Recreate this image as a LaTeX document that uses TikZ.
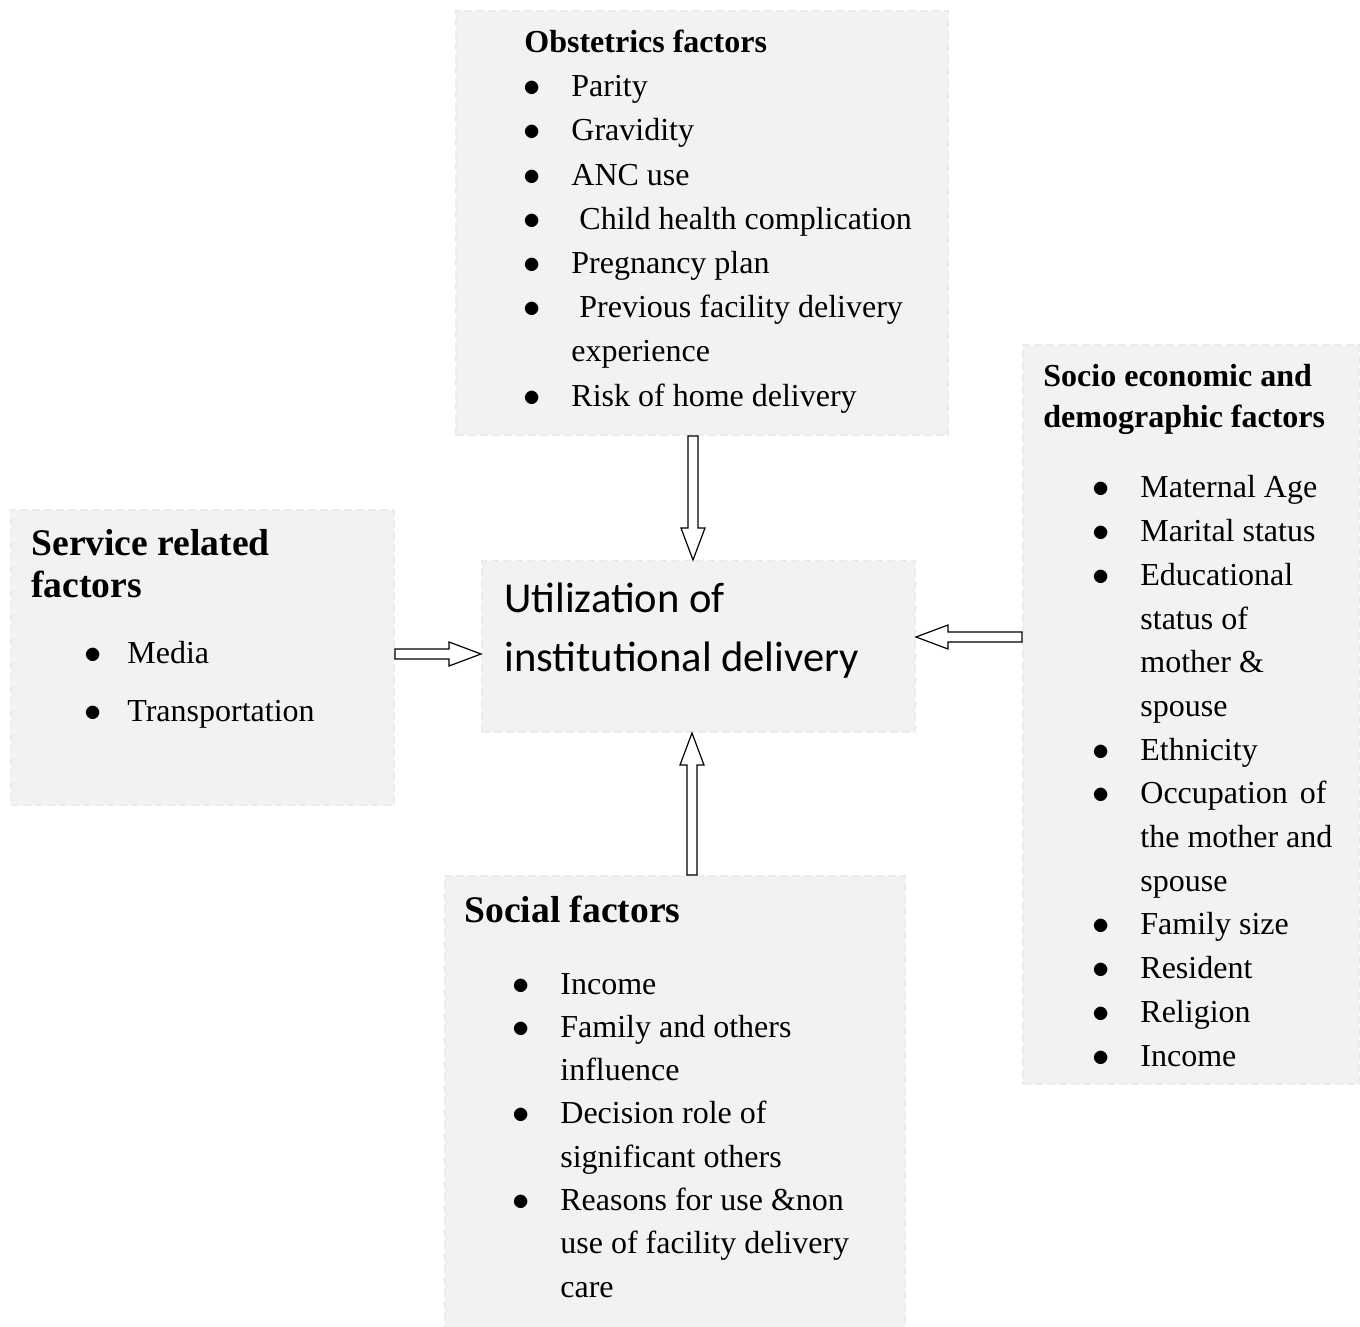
\documentclass[tikz,border=0pt]{standalone}
\usepackage{fontspec}
\setmainfont{Liberation Serif}
\newfontfamily\calibrifont{Carlito}
\usetikzlibrary{calc}

\definecolor{boxfill}{HTML}{F2F2F2}
\definecolor{boxline}{HTML}{EEECE1}

% bullet list helpers
\newlength\bulind \setlength\bulind{24pt}
\newcommand\bitem[1]{\makebox[\bulind][l]{$\bullet$}#1}
\newcommand\bcont[1]{\hspace*{\bulind}#1}

% outlined block arrow between two named points
\newcommand\blockarrow[2]{%
  \path let \p1=($(#2)-(#1)$), \n1={veclen(\x1,\y1)}, \n2={atan2(\y1,\x1)} in
    \pgfextra{\xdef\arrlen{\n1}\xdef\arrang{\n2}};
  \draw[blockarr, shift={(#1)}, rotate=\arrang]
    (0pt,2.5pt) -- (\arrlen-16pt,2.5pt) -- (\arrlen-16pt,6pt) -- (\arrlen+0pt,0pt)
    -- (\arrlen-16pt,-6pt) -- (\arrlen-16pt,-2.5pt) -- (0pt,-2.5pt) -- cycle;}

\begin{document}
\begin{tikzpicture}[
    x=0.5pt, y=-0.5pt,
    factorbox/.style={draw=boxline, fill=boxfill, dashed, dash pattern=on 4pt off 2pt,
      line width=1pt, anchor=north west, inner sep=0pt},
    titletext/.style={font=\bfseries\fontsize{16pt}{20.5pt}\selectfont, align=left, inner sep=0pt, anchor=base west},
    bigtitle/.style={font=\bfseries\fontsize{18.8pt}{21pt}\selectfont, align=left, inner sep=0pt, anchor=base west},
    listtext/.style={font=\fontsize{16pt}{22.1pt}\selectfont, align=left, inner sep=0pt, anchor=base west},
    blockarr/.style={draw=black, fill=white, line width=0.6pt, line join=miter}
]
\useasboundingbox (0,0) rectangle (1360,1327);

% ---- boxes ----
\node[factorbox, minimum width=246pt, minimum height=212pt] (obst) at (455,10) {};
\node[factorbox, minimum width=216.5pt, minimum height=85.5pt] (util) at (481,560) {};
\node[factorbox, minimum width=191.5pt, minimum height=147.5pt] (service) at (10,509) {};
\node[factorbox, minimum width=168pt, minimum height=369.5pt] (socio) at (1022,344) {};
\node[factorbox, minimum width=230pt, minimum height=227.5pt] (social) at (444,875) {};

% ---- obstetrics (multi-line nodes sit on their last baseline) ----
\node[titletext] (obsttitle) at (524,53) {Obstetrics factors};
\node[listtext] (obstlist) at (523,406) {%
  \bitem{Parity}\\
  \bitem{Gravidity}\\
  \bitem{ANC use}\\
  \bitem{\hspace*{4pt}Child health complication}\\
  \bitem{Pregnancy plan}\\
  \bitem{\hspace*{4pt}Previous facility delivery}\\
  \bcont{experience}\\
  \bitem{Risk of home delivery}};

% ---- centre ----
\node[font=\calibrifont\fontsize{21.3pt}{29.5pt}\selectfont, align=left, inner sep=0pt, anchor=base west]
  (utiltext) at (504,671) {Utilization of\\institutional delivery};

% ---- service related ----
\node[bigtitle] (srvtitle) at (31,597) {Service related\\factors};
\node[listtext, font=\fontsize{16pt}{29pt}\selectfont\setlength\bulind{21.5pt}] (srvlist) at (84,721) {%
  \bitem{Media}\\
  \bitem{Transportation}};

% ---- socio economic ----
\node[titletext] (sociotitle) at (1043,427) {Socio economic and\\demographic factors};
\node[listtext, font=\fontsize{16pt}{21.85pt}\selectfont] (sociolist) at (1092,1066) {%
  \bitem{Maternal Age}\\
  \bitem{Marital status}\\
  \bitem{Educational}\\
  \bcont{status of}\\
  \bcont{mother \&}\\
  \bcont{spouse}\\
  \bitem{Ethnicity}\\
  \bitem{Occupation\hspace{6pt}of}\\
  \bcont{the mother and}\\
  \bcont{spouse}\\
  \bitem{Family size}\\
  \bitem{Resident}\\
  \bitem{Religion}\\
  \bitem{Income}};

% ---- social ----
\node[bigtitle] (socialtitle) at (464,922) {Social factors};
\node[listtext, font=\fontsize{16pt}{21.64pt}\selectfont] (sociallist) at (512,1297) {%
  \bitem{Income}\\
  \bitem{Family and others}\\
  \bcont{influence}\\
  \bitem{Decision role of}\\
  \bcont{significant others}\\
  \bitem{Reasons for use \&non}\\
  \bcont{use of facility delivery}\\
  \bcont{care}};

% ---- arrows ----
\coordinate (obstout) at (obst.south -| 693,0);
\coordinate (utiltop) at (693,560);
\coordinate (srvout) at (service.east |- 0,654);
\coordinate (utilleft) at (util.west |- 0,654);
\coordinate (socioout) at (socio.west |- 0,637);
\coordinate (utilright) at (util.east |- 0,637);
\coordinate (socialout) at (social.north -| 692,0);
\coordinate (utilbottom) at (util.south -| 692,0);

\blockarrow{obstout}{utiltop}
\blockarrow{srvout}{utilleft}
\blockarrow{socioout}{utilright}
\blockarrow{socialout}{utilbottom}

\end{tikzpicture}
\end{document}
